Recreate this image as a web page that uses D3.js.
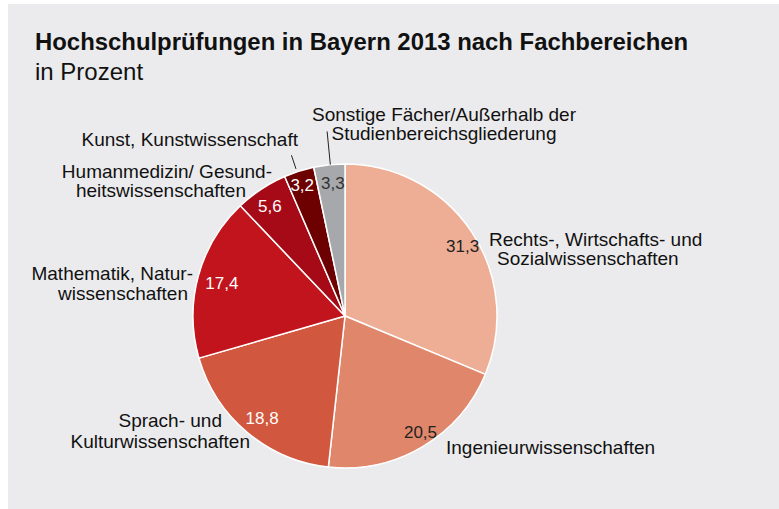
<!DOCTYPE html>
<html><head><meta charset="utf-8">
<script src="https://cdn.jsdelivr.net/npm/d3@7"></script>
<style>body{margin:0;background:#fff}svg{display:block}text{font-family:"Liberation Sans",Arial,Helvetica,sans-serif}</style>
</head><body><svg id="c" width="779" height="509"></svg>
<script>
const categories = ["Rechts-, Wirtschafts- und Sozialwissenschaften","Ingenieurwissenschaften","Sprach- und Kulturwissenschaften","Mathematik, Naturwissenschaften","Humanmedizin/ Gesundheitswissenschaften","Kunst, Kunstwissenschaft","Sonstige Fächer/Außerhalb der Studienbereichsgliederung"];
const values = [31.3, 20.5, 18.8, 17.4, 5.6, 3.2, 3.3];
const valueLabels = ["31,3","20,5","18,8","17,4","5,6","3,2","3,3"];
const colors = ["#eeae95","#e0876b","#d1573e","#c2141d","#a60a16","#6d0000","#a7a8ab"];
const labelColors = ["#222","#222","#fff","#fff","#fff","#fff","#333"];
const outerLabels = [
  [{t:"Rechts-, Wirtschafts- und",x:489,y:246,a:"start"},{t:"Sozialwissenschaften",x:497,y:265,a:"start"}],
  [{t:"Ingenieurwissenschaften",x:446,y:454,a:"start"}],
  [{t:"Sprach- und",x:222,y:427,a:"end"},{t:"Kulturwissenschaften",x:250,y:448,a:"end"}],
  [{t:"Mathematik, Natur-",x:193,y:280,a:"end"},{t:"wissenschaften",x:188,y:300,a:"end"}],
  [{t:"Humanmedizin/ Gesund-",x:272,y:178,a:"end"},{t:"heitswissenschaften",x:246,y:197,a:"end"}],
  [{t:"Kunst, Kunstwissenschaft",x:298,y:146,a:"end"}],
  [{t:"Sonstige Fächer/Außerhalb der",x:444,y:121,a:"middle"},{t:"Studienbereichsgliederung",x:444,y:140,a:"middle"}]
];
const svg = d3.select("#c");
svg.append("rect").attr("x",8).attr("y",4).attr("width",771).attr("height",505).attr("fill","#ebebed");
svg.append("text").attr("x",35).attr("y",50).attr("font-size",23.9).attr("font-weight","bold").attr("fill","#111").text("Hochschulprüfungen in Bayern 2013 nach Fachbereichen");
svg.append("text").attr("x",35).attr("y",80).attr("font-size",24).attr("fill","#111").text("in Prozent");

const cx=345, cy=316, R=152;
const pie = d3.pie().sort(null).value(d=>d);
const arcs = pie(values);
const arc = d3.arc().innerRadius(0).outerRadius(R);
const g = svg.append("g").attr("transform",`translate(${cx},${cy})`);
g.selectAll("path").data(arcs).join("path").attr("d",arc).attr("fill",(d,i)=>colors[i]).attr("stroke","#fff").attr("stroke-width",1.5).attr("stroke-linejoin","round");

const labelR = [0.9,0.91,0.865,0.84,0.875,0.905,0.88];
const labelOff = [3,-2.5,-1,0,-1,-0.5,0.7].map(d=>d*Math.PI/180);
const mid = (d,i)=>(d.startAngle+d.endAngle)/2+labelOff[i];
g.selectAll("text.v").data(arcs).join("text").attr("class","v")
  .attr("x",(d,i)=>Math.sin(mid(d,i))*R*labelR[i])
  .attr("y",(d,i)=>-Math.cos(mid(d,i))*R*labelR[i])
  .attr("text-anchor","middle").attr("dy","0.35em").attr("font-size",17)
  .attr("fill",(d,i)=>labelColors[i]).text((d,i)=>valueLabels[i]);

// leader lines for small slices
const leaders=[[5,1.02,1.115,-0.8],[6,1.0,1.22,0.4]];
leaders.forEach(([i,r0,r1,off])=>{
  const a=(arcs[i].startAngle+arcs[i].endAngle)/2+off*Math.PI/180;
  g.append("line").attr("x1",Math.sin(a)*R*r0).attr("y1",-Math.cos(a)*R*r0).attr("x2",Math.sin(a)*R*r1).attr("y2",-Math.cos(a)*R*r1).attr("stroke","#222").attr("stroke-width",1);
});

outerLabels.forEach(lines=>lines.forEach(l=>{
  svg.append("text").attr("x",l.x).attr("y",l.y).attr("text-anchor",l.a).attr("font-size",19).attr("fill","#111").text(l.t);
}));
</script></body></html>
